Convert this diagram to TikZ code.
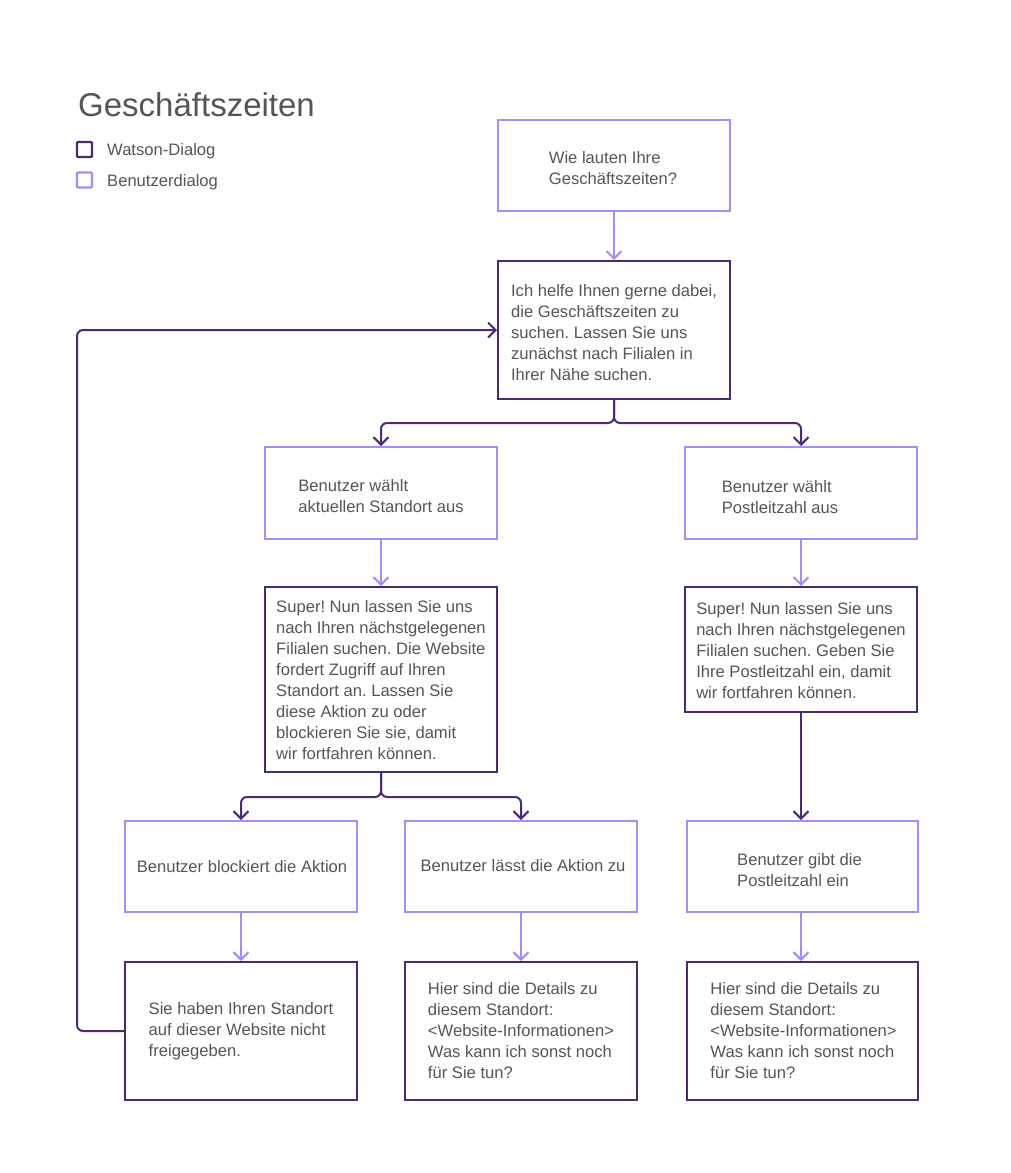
\documentclass[tikz,border=0pt]{standalone}
\usepackage{fontspec}
\setmainfont{Liberation Sans}
\usetikzlibrary{arrows.meta}
\definecolor{dark}{HTML}{4A2A73}
\definecolor{light}{HTML}{A58CF8}
\definecolor{txt}{HTML}{555555}
\frenchspacing
\tikzset{
 box/.style={draw, line width=2pt, minimum width=232pt, inner sep=0pt},
 wbox/.style={box, draw=dark},
 ubox/.style={box, draw=light},
 lbl/.style={align=left, inner sep=0pt, font=\fontsize{16.6}{21}\selectfont, text=txt},
 conn/.style={line width=2pt, -{Straight Barb[length=7.5pt,width=15pt,line width=2pt]}, rounded corners=6pt},
 wconn/.style={conn, draw=dark},
 uconn/.style={conn, draw=light},
 legsq/.style={line width=2.4pt, minimum size=15pt, inner sep=0pt, rounded corners=1pt},
 legtxt/.style={anchor=west, inner sep=0pt, font=\fontsize{16.6}{21}\selectfont, text=txt},
}
\begin{document}
\begin{tikzpicture}[x=1pt,y=-1pt]
\useasboundingbox (0,0) rectangle (1011,1173);
\node[anchor=base west, inner sep=0pt, font=\fontsize{33}{33}\selectfont, text=txt] (title) at (78,116) {Geschäftszeiten};
\node[legsq, draw=dark] (lw) at (84.5,149.5) {};
\node[legtxt] (lwt) at (107,151.5) {Watson-Dialog};
\node[legsq, draw=light] (lu) at (84.5,180) {};
\node[legtxt] (lut) at (107,182) {Benutzerdialog};

\node[ubox, minimum height=91pt] (Q1) at (614,165.5) {};
\node[lbl] (Q1t) at ([xshift=-1pt,yshift=-2.5pt]Q1.center) {Wie lauten Ihre\\Geschäftszeiten?};
\node[wbox, minimum height=138pt] (A1) at (614,330) {};
\node[lbl] (A1t) at ([yshift=-3pt]A1.center) {Ich helfe Ihnen gerne dabei,\\die Geschäftszeiten zu\\suchen. Lassen Sie uns\\zunächst nach Filialen in\\Ihrer Nähe suchen.};
\node[ubox, minimum height=92pt] (B1) at (381,493) {};
\node[lbl] (B1t) at ([yshift=-3pt]B1.center) {Benutzer wählt\\aktuellen Standort aus};
\node[ubox, minimum height=92pt] (B2) at (801,493) {};
\node[lbl] (B2t) at ([xshift=-21pt,yshift=-4pt]B2.center) {Benutzer wählt\\Postleitzahl aus};
\node[wbox, minimum height=185pt] (A2) at (381,679.5) {};
\node[lbl] (A2t) at ([yshift=-1pt]A2.center) {Super! Nun lassen Sie uns\\nach Ihren nächstgelegenen\\Filialen suchen. Die Website\\fordert Zugriff auf Ihren\\Standort an. Lassen Sie\\diese Aktion zu oder\\blockieren Sie sie, damit\\wir fortfahren können.};
\node[wbox, minimum height=125pt] (A3) at (801,649.5) {};
\node[lbl] (A3t) at ([yshift=-1pt]A3.center) {Super! Nun lassen Sie uns\\nach Ihren nächstgelegenen\\Filialen suchen. Geben Sie\\Ihre Postleitzahl ein, damit\\wir fortfahren können.};
\node[ubox, minimum height=91pt] (C1) at (241,866.5) {};
\node[lbl] (C1t) at ([xshift=1pt]C1.center) {Benutzer blockiert die Aktion};
\node[ubox, minimum height=91pt] (C2) at (521,866.5) {};
\node[lbl] (C2t) at ([xshift=2pt,yshift=1pt]C2.center) {Benutzer lässt die Aktion zu};
\node[ubox, minimum height=91pt, minimum width=231pt] (C3) at (802.5,866.5) {};
\node[lbl] (C3t) at ([xshift=-3pt,yshift=-4pt]C3.center) {Benutzer gibt die\\Postleitzahl ein};
\node[wbox, minimum height=138pt] (D1) at (241,1031) {};
\node[lbl] (D1t) at (D1.center) {Sie haben Ihren Standort\\auf dieser Website nicht\\freigegeben.};
\node[wbox, minimum height=138pt] (D2) at (521,1031) {};
\node[lbl] (D2t) at (D2.center) {Hier sind die Details zu\\diesem Standort:\\<Website-Informationen>\\Was kann ich sonst noch\\für Sie tun?};
\node[wbox, minimum height=138pt, minimum width=231pt] (D3) at (802.5,1031) {};
\node[lbl] (D3t) at ([xshift=1pt]D3.center) {Hier sind die Details zu\\diesem Standort:\\<Website-Informationen>\\Was kann ich sonst noch\\für Sie tun?};

\draw[uconn] (Q1) -- (A1);
\draw[wconn] (A1.south) -- ++(0,23) -| (B1.north);
\draw[wconn] (A1.south) -- ++(0,23) -| (B2.north);
\draw[uconn] (B1) -- (A2);
\draw[uconn] (B2) -- (A3);
\draw[wconn] (A2.south) -- ++(0,24) -| (C1.north);
\draw[wconn] (A2.south) -- ++(0,24) -| (C2.north);
\draw[wconn] (A3.south) -- (A3.south |- C3.north);
\draw[uconn] (C1) -- (D1);
\draw[uconn] (C2) -- (D2);
\draw[uconn] (C3.south -| A3.south) -- (A3.south |- D3.north);
\coordinate (lb) at (77,1031);
\coordinate (lt) at (77,330);
\draw[wconn] (D1.west) -- (lb) -- (lt) -- (A1.west);
\end{tikzpicture}
\end{document}
